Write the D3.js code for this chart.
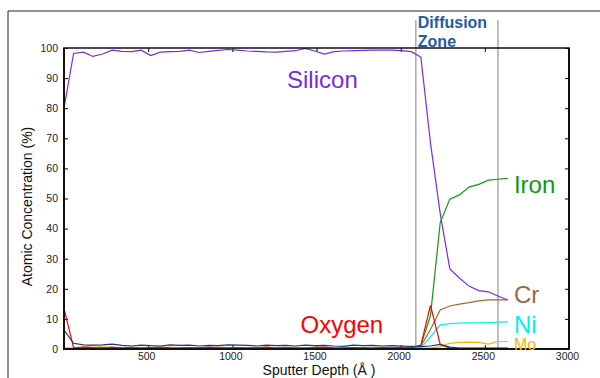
<html>
<head>
  <script src="https://d3js.org/d3.v7.min.js"></script>
  <style>
    body { margin: 0; background: #fff; }
    svg text { font-family: "Liberation Sans", Arial, sans-serif; }
  </style>
</head>
<body>
  <div id="plot"></div>
  <script>

    // sputter depth of each sample (Angstrom)
    var depth = [0, 57, 115, 172, 229, 287, 344, 401, 458, 516, 573, 630, 688, 745, 802, 860,
                 917, 974, 1031, 1089, 1146, 1203, 1261, 1318, 1375, 1433, 1490, 1547, 1604, 1662,
                 1719, 1776, 1834, 1891, 1948, 2006, 2063, 2120, 2177, 2235, 2292, 2349, 2406,
                 2464, 2521, 2578, 2636];

    var silicon = [80, 98.2, 98.6, 97.2, 98.0, 99.3, 98.9, 98.8, 99.3, 97.5, 98.6, 98.8, 98.9, 99.3,
                   98.5, 98.9, 99.2, 99.5, 99.3, 99.0, 98.9, 98.7, 98.6, 98.9, 99.1, 99.9, 99.0, 98.0,
                   98.8, 99.0, 99.1, 99.2, 99.3, 99.3, 99.3, 99.1, 98.8, 97.0, 68.5, 45, 26.6, 23.6,
                   20.9, 19.4, 19.0, 17.6, 16.3];

    var oxygen = [13.5, 0.4, 0.6, 0.5, 0.3, 0.6, 0.4, 0.5, 0.3, 0.5, 0.6, 0.4, 0.3, 0.5, 0.4, 0.6,
                  0.3, 0.4, 0.5, 0.3, 0.4, 0.6, 0.3, 0.5, 0.4, 0.3, 0.5, 0.6, 0.4, 0.3, 0.5, 0.4,
                  0.3, 0.5, 0.4, 0.6, 0.5, 1.2, 14.5, 1.5, 0.3, 0.2, 0.2, 0.2, 0.2, 0.2, 0.2];

    var iron = [0.2, 0.1, 0.3, 0.2, 0.5, 0.2, 0.1, 0.3, 0.2, 0.4, 0.2, 0.1, 0.3, 0.2, 0.1, 0.2,
                0.4, 0.2, 0.1, 0.3, 0.2, 0.1, 0.2, 0.3, 0.1, 0.2, 0.3, 0.2, 0.1, 0.2, 0.3, 0.2,
                0.1, 0.2, 0.3, 0.2, 0.3, 1.3, 11, 42, 49.8, 51.2, 53.8, 54.7, 56.1, 56.4, 56.7];

    var chromium = [0.1, 0.1, 0.1, 0.2, 0.1, 0.1, 0.1, 0.1, 0.2, 0.1, 0.1, 0.1, 0.1, 0.1, 0.2, 0.1,
                    0.1, 0.1, 0.1, 0.1, 0.1, 0.2, 0.1, 0.1, 0.1, 0.1, 0.1, 0.1, 0.2, 0.1, 0.1, 0.1,
                    0.1, 0.1, 0.1, 0.2, 0.3, 1.0, 6.5, 13, 14.3, 14.9, 15.4, 16.0, 16.3, 16.3, 16.3];

    var nickel = [0.1, 0.1, 0.1, 0.1, 0.1, 0.1, 0.1, 0.1, 0.1, 0.1, 0.1, 0.1, 0.1, 0.1, 0.1, 0.1,
                  0.1, 0.1, 0.1, 0.1, 0.1, 0.1, 0.1, 0.1, 0.1, 0.1, 0.1, 0.1, 0.1, 0.1, 0.1, 0.1,
                  0.1, 0.1, 0.1, 0.1, 0.2, 0.5, 4, 8, 8.4, 8.6, 8.7, 8.7, 8.8, 8.9, 9.0];

    var molybdenum = [0.3, 0.4, 0.6, 1.2, 0.7, 0.5, 0.4, 0.6, 0.5, 0.4, 0.5, 0.6, 0.4, 0.5, 0.5, 0.4,
                      0.6, 0.5, 0.4, 0.5, 0.5, 0.6, 0.4, 0.5, 0.5, 0.4, 0.6, 0.5, 0.4, 0.5, 0.5, 0.4,
                      0.5, 0.6, 0.4, 0.5, 0.4, 0.3, 0.3, 0.8, 1.9, 2.2, 2.3, 2.2, 1.6, 2.5, 2.5];

    var carbon = [6.3, 1.9, 1.4, 1.3, 1.4, 1.6, 1.2, 1.0, 1.3, 1.1, 1.0, 1.4, 1.2, 1.3, 1.0, 1.2,
                  1.1, 1.4, 1.3, 1.2, 1.0, 1.3, 1.1, 1.2, 1.0, 1.3, 1.1, 1.2, 1.0, 0.9, 1.3, 1.1,
                  1.2, 1.0, 1.1, 1.0, 0.9, 0.8, 1.0, 1.5, 0.6, 0.3, 0.3, 0.3, 0.3, 0.3, 0.3];

    var xTicks = [500, 1000, 1500, 2000, 2500, 3000];
    var yTicks = [0, 10, 20, 30, 40, 50, 60, 70, 80, 90, 100];
    var zoneEdges = [2090, 2578];

    var w = 600, h = 378;
    var plotL = 64, plotR = 569, plotT = 48, plotB = 349;

    var svg = d3.select('#plot').append("svg")
              .attr("width", w)
              .attr("height", h);

    var x = d3.scaleLinear().domain([0, 3000]).range([plotL, plotR]);
    var y = d3.scaleLinear().domain([0, 100]).range([plotB, plotT]);

    // outer frame
    svg.append("path")
      .attr("d", "M8," + h + "V11H" + w)
      .attr("fill", "none")
      .attr("stroke", "#222")
      .attr("stroke-width", 1);

    // diffusion zone edges
    svg.selectAll(".zone").data(zoneEdges).enter()
      .append("line")
      .attr("class", "zone")
      .attr("x1", function(d) { return x(d); })
      .attr("x2", function(d) { return x(d); })
      .attr("y1", 20)
      .attr("y2", plotB)
      .attr("stroke", "#aaa")
      .attr("stroke-width", 1.5);

    svg.append("text")
      .attr("x", x(zoneEdges[0]) + 2)
      .attr("y", 28)
      .attr("font-size", 16)
      .attr("font-weight", "bold")
      .attr("fill", "#1f5ca3")
      .text("Diffusion");
    svg.append("text")
      .attr("x", x(zoneEdges[0]) + 2)
      .attr("y", 47)
      .attr("font-size", 16)
      .attr("font-weight", "bold")
      .attr("fill", "#1f5ca3")
      .text("Zone");

    // axes: ticks point inward on all four sides
    svg.append("g")
      .attr("transform", "translate(0," + plotB + ")")
      .call(d3.axisBottom(x).tickValues(xTicks).tickSize(-4).tickPadding(4).tickFormat(d3.format("d")))
      .call(function(g) {
        g.select(".domain").remove();
        g.selectAll("text").attr("font-size", 10.5).attr("fill", "#222").attr("dx", -2)
          .style("font-family", '"Liberation Sans", Arial, sans-serif');
      });
    svg.append("g")
      .attr("transform", "translate(0," + plotT + ")")
      .call(d3.axisTop(x).tickValues(xTicks).tickSize(-4).tickFormat(""))
      .call(function(g) { g.select(".domain").remove(); });
    svg.append("g")
      .attr("transform", "translate(" + plotL + ",0)")
      .call(d3.axisLeft(y).tickValues(yTicks).tickSize(-4).tickPadding(6))
      .call(function(g) {
        g.select(".domain").remove();
        g.selectAll("text").attr("font-size", 10.5).attr("fill", "#222")
          .style("font-family", '"Liberation Sans", Arial, sans-serif');
      });
    svg.append("g")
      .attr("transform", "translate(" + plotR + ",0)")
      .call(d3.axisRight(y).tickValues(yTicks).tickSize(-4).tickFormat(""))
      .call(function(g) { g.select(".domain").remove(); });

    // series
    var series = [
      { name: "Mo", values: molybdenum, color: "#ffb000" },
      { name: "Iron", values: iron, color: "#119a11" },
      { name: "Ni", values: nickel, color: "#00f0f0" },
      { name: "Cr", values: chromium, color: "#9a6a3c" },
      { name: "Oxygen", values: oxygen, color: "#ff0000" },
      { name: "C", values: carbon, color: "#1f3a78" },
      { name: "Silicon", values: silicon, color: "#7a2be0" }
    ];

    var lineFunc = d3.line()
      .x(function(d, i) { return x(depth[i]); })
      .y(function(d) { return y(d); });

    svg.selectAll(".series").data(series).enter()
      .append("path")
      .attr("class", "series")
      .attr("d", function(s) { return lineFunc(s.values); })
      .attr("fill", "none")
      .attr("stroke", function(s) { return s.color; })
      .attr("stroke-width", 1.2);

    // plot box
    svg.append("rect")
      .attr("x", plotL).attr("y", plotT)
      .attr("width", plotR - plotL).attr("height", plotB - plotT)
      .attr("fill", "none")
      .attr("stroke", "#111")
      .attr("stroke-width", 1.5);
    svg.append("path")
      .attr("d", "M" + plotL + "," + plotT + "V" + plotB + "H" + plotR + "V" + plotT)
      .attr("fill", "none")
      .attr("stroke", "#111")
      .attr("stroke-width", 2);

    // element labels
    var labels = [
      { text: "Silicon", depth: 1325, value: 86.7, size: 24, color: "#7a2be0" },
      { text: "Iron", depth: 2673, value: 51.8, size: 24, color: "#119a11" },
      { text: "Cr", depth: 2673, value: 15.3, size: 24, color: "#9a6a3c" },
      { text: "Ni", depth: 2673, value: 5.3, size: 24, color: "#00f0f0" },
      { text: "Mo", depth: 2673, value: -0.3, size: 16, color: "#ffb000" },
      { text: "Oxygen", depth: 1405, value: 5.3, size: 24, color: "#ff0000" }
    ];
    svg.selectAll(".elabel").data(labels).enter()
      .append("text")
      .attr("class", "elabel")
      .attr("x", function(d) { return x(d.depth); })
      .attr("y", function(d) { return y(d.value); })
      .attr("font-size", function(d) { return d.size; })
      .attr("fill", function(d) { return d.color; })
      .text(function(d) { return d.text; });

    // axis titles
    svg.append("text")
      .attr("transform", "translate(32," + ((plotT + plotB) / 2 + 8) + ") rotate(-90)")
      .attr("text-anchor", "middle")
      .attr("font-size", 14)
      .attr("fill", "#111")
      .text("Atomic Concentration (%)");
    svg.append("text")
      .attr("x", 319)
      .attr("y", 375)
      .attr("text-anchor", "middle")
      .attr("font-size", 14)
      .attr("fill", "#111")
      .text("Sputter Depth (Å )");
  </script>
</body>
</html>
